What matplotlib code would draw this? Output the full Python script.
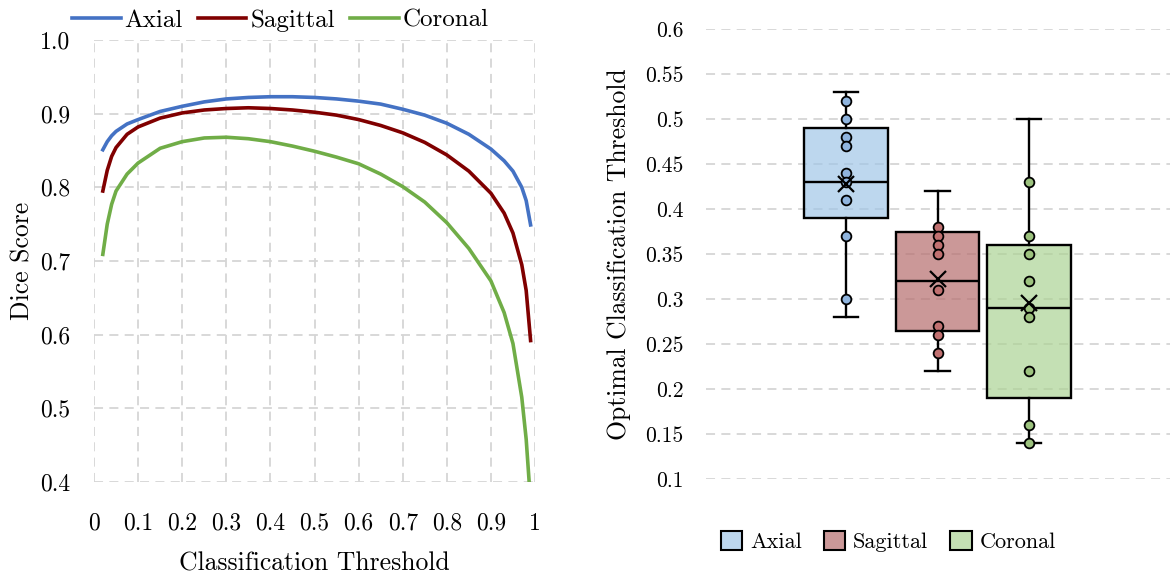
import matplotlib.pyplot as plt
from matplotlib.patches import Patch
from matplotlib.colors import to_rgba

plt.rcParams['font.family'] = ['cmr10', 'DejaVu Serif']
plt.rcParams['axes.formatter.use_mathtext'] = True
plt.rcParams['mathtext.fontset'] = 'cm'

# left panel: dice score vs threshold
thr = [0.02, 0.03, 0.04, 0.05, 0.075, 0.1, 0.15, 0.2, 0.25, 0.3, 0.35, 0.4, 0.45, 0.5,
       0.55, 0.6, 0.65, 0.7, 0.75, 0.8, 0.85, 0.9, 0.93, 0.95, 0.97, 0.98, 0.99]
thr_cor = thr[:-1] + [0.987]
dice_axial = [0.851, 0.862, 0.870, 0.876, 0.886, 0.892, 0.903, 0.910, 0.916, 0.920, 0.922,
              0.923, 0.923, 0.922, 0.920, 0.917, 0.913, 0.906, 0.898, 0.887, 0.872,
              0.852, 0.836, 0.822, 0.800, 0.782, 0.749]
dice_sagittal = [0.795, 0.823, 0.842, 0.854, 0.872, 0.882, 0.894, 0.901, 0.905, 0.907, 0.908,
                 0.907, 0.905, 0.902, 0.898, 0.892, 0.884, 0.874, 0.861, 0.844, 0.822,
                 0.792, 0.765, 0.738, 0.695, 0.660, 0.592]
dice_coronal = [0.709, 0.750, 0.777, 0.795, 0.818, 0.833, 0.853, 0.862, 0.867, 0.868, 0.866,
                0.862, 0.856, 0.849, 0.841, 0.832, 0.818, 0.801, 0.780, 0.752, 0.717,
                0.673, 0.630, 0.588, 0.515, 0.458, 0.398]

# right panel: optimal thresholds per view
views = ["Axial", "Sagittal", "Coronal"]
pts_axial = [0.52, 0.50, 0.48, 0.47, 0.44, 0.43, 0.41, 0.37, 0.30]
pts_sagittal = [0.38, 0.37, 0.36, 0.35, 0.31, 0.27, 0.26, 0.24]
pts_coronal = [0.43, 0.37, 0.35, 0.32, 0.29, 0.28, 0.22, 0.16, 0.14]
q1 = [0.39, 0.265, 0.19]
med = [0.43, 0.32, 0.29]
q3 = [0.49, 0.375, 0.36]
wlo = [0.28, 0.22, 0.14]
whi = [0.53, 0.42, 0.50]
means = [0.428, 0.322, 0.296]

line_colors = ["#4472c4", "#800000", "#70ad47"]
box_colors = ["#a1c6e7", "#b66d6d", "#acd394"]
pt_colors = ["#8fb4de", "#c07070", "#9cc27e"]

grid_kw = dict(color="#d5d5d5", linestyle=(0, (5, 3.5)), linewidth=1.3)

fig = plt.figure(figsize=(11.7, 5.74), dpi=100)

ax = fig.add_axes([94/1170, 1-482/574, 441/1170, 442/574])
ax.plot(thr, dice_axial, color=line_colors[0], lw=2.6, label="Axial")
ax.plot(thr, dice_sagittal, color=line_colors[1], lw=2.6, label="Sagittal")
ax.plot(thr_cor, dice_coronal, color=line_colors[2], lw=2.6, label="Coronal")
ax.set_xlim(0, 1)
ax.set_ylim(0.4, 1.0)
xt = [i/10 for i in range(11)]
ax.set_xticks(xt)
ax.set_xticklabels(["0"] + ["%.1f" % v for v in xt[1:-1]] + ["1"], fontsize=17)
yt = [0.4, 0.5, 0.6, 0.7, 0.8, 0.9, 1.0]
ax.set_yticks(yt)
ax.set_yticklabels(["%.1f" % v for v in yt], fontsize=17)
ax.tick_params(length=0, axis="x", pad=22)
ax.tick_params(length=0, axis="y", pad=17)
ax.grid(True, **grid_kw)
ax.set_axisbelow(True)
for s in ax.spines.values():
    s.set_visible(False)
ax.set_xlabel("Classification Threshold", fontsize=18.5, labelpad=12)
ax.set_ylabel("Dice Score", fontsize=18.5, labelpad=4)
ax.legend(loc="lower center", bbox_to_anchor=(0.422, 0.985), ncol=3, frameon=False,
          fontsize=18, handlelength=1.95, handletextpad=0.15, columnspacing=0.6,
          borderpad=0.1)

ax2 = fig.add_axes([706/1170, 1-479/574, 464/1170, 450/574])
pos = [1, 2, 3]
stats = []
for i, v in enumerate(views):
    stats.append(dict(label=v, q1=q1[i], med=med[i], q3=q3[i],
                      whislo=wlo[i], whishi=whi[i], mean=means[i], fliers=[]))
bp = ax2.bxp(stats, positions=pos, widths=0.913, patch_artist=True, showmeans=False,
             capwidths=0.27,
             boxprops=dict(linewidth=1.7, edgecolor="black"),
             medianprops=dict(color="black", linewidth=1.7),
             whiskerprops=dict(color="black", linewidth=1.7),
             capprops=dict(color="black", linewidth=1.7))
for patch, c in zip(bp["boxes"], box_colors):
    patch.set_facecolor(to_rgba(c, 0.7))
    patch.set_edgecolor("black")
for i, pts in enumerate([pts_axial, pts_sagittal, pts_coronal]):
    ax2.plot([pos[i]] * len(pts), pts, linestyle="none", marker="o", markersize=7,
             markerfacecolor=pt_colors[i], markeredgecolor="black", markeredgewidth=1.3,
             zorder=4)
ax2.plot(pos, means, linestyle="none", marker="x", markersize=12, color="black",
         markeredgewidth=1.6, zorder=5)
ax2.set_xlim(-0.53, 4.54)
ax2.set_ylim(0.1, 0.6)
yt2 = [0.1, 0.15, 0.2, 0.25, 0.3, 0.35, 0.4, 0.45, 0.5, 0.55, 0.6]
ax2.set_yticks(yt2)
ax2.set_yticklabels(["%g" % v for v in yt2], fontsize=15.5)
ax2.set_xticks([])
ax2.tick_params(length=0, axis="y", pad=16)
ax2.yaxis.grid(True, **grid_kw)
ax2.set_axisbelow(True)
for s in ax2.spines.values():
    s.set_visible(False)
ax2.set_ylabel("Optimal Classification Threshold", fontsize=18.5, labelpad=10)
handles = [Patch(facecolor=to_rgba(c, 0.7), edgecolor="black", linewidth=1.5) for c in box_colors]
ax2.legend(handles, views, loc="upper left", bbox_to_anchor=(-0.01, -0.07), ncol=3,
           frameon=False, fontsize=16, handlelength=0.95, handleheight=0.95,
           handletextpad=0.35, columnspacing=1.0)

fig.savefig("out.png", dpi=100)
